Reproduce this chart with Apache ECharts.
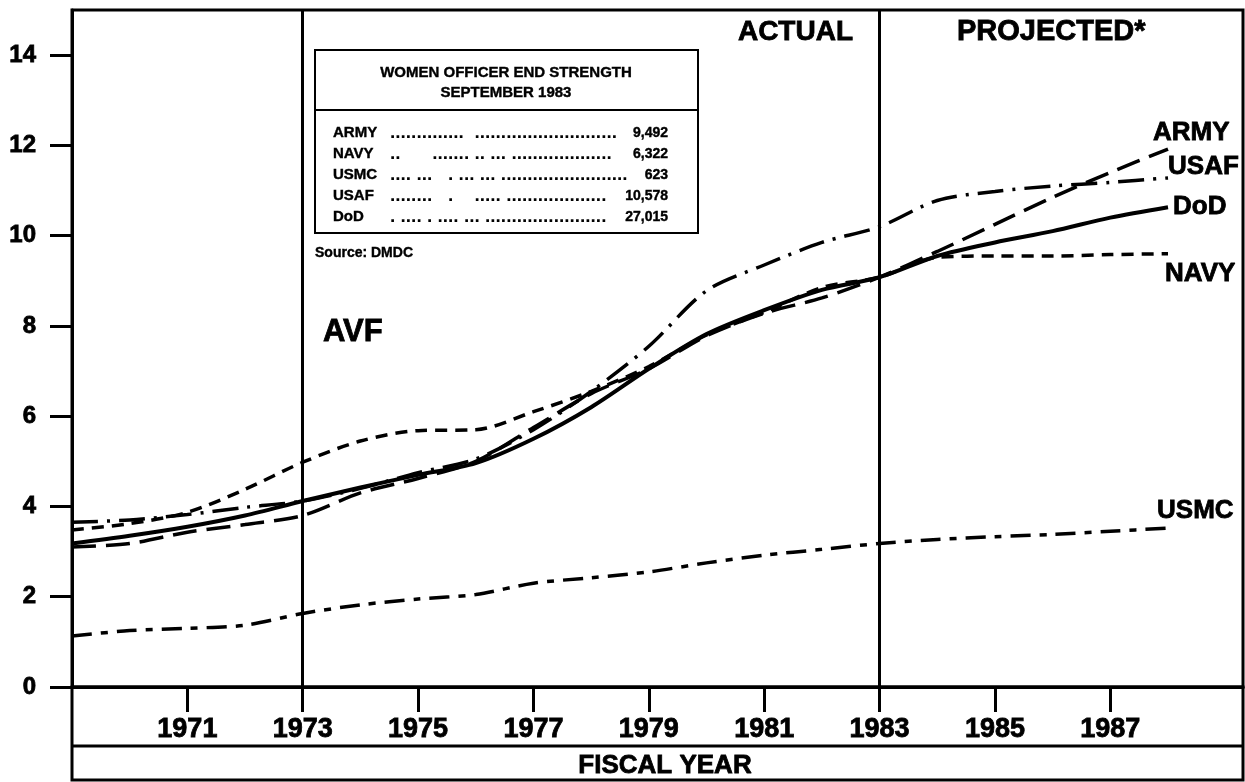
<!DOCTYPE html>
<html>
<head>
<meta charset="utf-8">
<script src="https://cdn.jsdelivr.net/npm/echarts@6/dist/echarts.min.js"></script>
<style>
  html, body { margin: 0; padding: 0; background: #fff; }
  #chart { width: 1245px; height: 782px; }
</style>
</head>
<body>
<div id="chart"></div>
<script>
// fiscal years and women officer strength (thousands)
var years = [1969, 1970, 1971, 1972, 1973, 1974, 1975, 1976, 1977, 1978,
             1979, 1980, 1981, 1982, 1983, 1984, 1985, 1986, 1987, 1988];
var army = [3.10, 3.18, 3.43, 3.60, 3.80, 4.30, 4.62, 5.00, 5.75, 6.50,
            7.05, 7.78, 8.28, 8.62, 9.08, 9.65, 10.25, 10.85, 11.40, 11.92];
var navy = [3.48, 3.62, 3.87, 4.38, 4.98, 5.45, 5.68, 5.70, 6.10, 6.55,
            7.10, 7.80, 8.30, 8.85, 9.08, 9.52, 9.55, 9.55, 9.58, 9.60];
var usmc = [1.13, 1.25, 1.30, 1.37, 1.63, 1.82, 1.95, 2.05, 2.30, 2.42,
            2.55, 2.75, 2.92, 3.05, 3.18, 3.27, 3.33, 3.38, 3.45, 3.52];
var usaf = [3.65, 3.70, 3.82, 3.98, 4.12, 4.40, 4.75, 5.05, 5.70, 6.55,
            7.55, 8.78, 9.35, 9.85, 10.20, 10.78, 10.98, 11.10, 11.18, 11.28];
var dod = [3.18, 3.35, 3.55, 3.80, 4.12, 4.42, 4.70, 4.96, 5.50, 6.20,
           7.05, 7.82, 8.35, 8.80, 9.08, 9.55, 9.85, 10.10, 10.40, 10.63];

var yearTicks = [1971, 1973, 1975, 1977, 1979, 1981, 1983, 1985, 1987];
var valueTicks = [0, 2, 4, 6, 8, 10, 12, 14];
var markYears = [1973, 1983];

// inset table
var tableRows = ["ARMY", "NAVY", "USMC", "USAF", "DoD"];
var tableValues = ["9,492", "6,322", "623", "10,578", "27,015"];
var tableDots = [
  "..............  ...........................",
  "..      ....... .. ... ...................",
  ".... ...   . ... ... ........................",
  "........   .    ..... ...................",
  ". .... . .... ... ......................."
];

var FONT = "'Liberation Sans', Arial, sans-serif";

function pairs(vals) {
  return years.map(function (y, i) { return [y, vals[i]]; });
}

function line(name, vals, dash, width, offset) {
  return {
    name: name,
    type: "line",
    data: pairs(vals),
    showSymbol: false,
    smooth: 0.3,
    silent: true,
    lineStyle: { color: "#000", width: width, type: dash, cap: "butt" },
    endLabel: {
      show: true,
      formatter: name,
      color: "#000",
      fontFamily: FONT,
      fontWeight: "bold",
      fontSize: 26,
      textBorderColor: "#000",
      textBorderWidth: 0.8,
      distance: 0,
      offset: offset
    },
    z: 3
  };
}

function heavy(x, y, text, size, align) {
  return { type: "text", x: x, y: y,
    style: { text: text, font: "bold " + size + "px " + FONT, fill: "#000",
             stroke: "#000", lineWidth: 0.8,
             align: align, verticalAlign: "middle" } };
}

var chart = echarts.init(document.getElementById("chart"));

var graphics = [
  // lower axis box
  { type: "rect", shape: { x: 72, y: 687, width: 1171, height: 93 },
    style: { fill: null, stroke: "#000", lineWidth: 3 }, z: 10 },
  { type: "line", shape: { x1: 72, y1: 746, x2: 1243, y2: 746 },
    style: { stroke: "#000", lineWidth: 3 }, z: 10 },
  heavy(665, 766, "FISCAL YEAR", 26, "center"),
  heavy(853, 32, "ACTUAL", 28, "right"),
  heavy(957, 32, "PROJECTED*", 29, "left"),
  heavy(323, 332, "AVF", 31, "left"),
  // table
  { type: "rect", shape: { x: 315, y: 50, width: 383, height: 183 },
    style: { fill: "#fff", stroke: "#000", lineWidth: 2 }, z: 20 },
  { type: "line", shape: { x1: 315, y1: 110, x2: 698, y2: 110 },
    style: { stroke: "#000", lineWidth: 2 }, z: 21 },
  { type: "text", x: 506, y: 73, z: 21,
    style: { text: "WOMEN OFFICER END STRENGTH", font: "bold 15px " + FONT,
             fill: "#000", stroke: "#000", lineWidth: 0.4,
             align: "center", verticalAlign: "middle" } },
  { type: "text", x: 506, y: 93, z: 21,
    style: { text: "SEPTEMBER 1983", font: "bold 15px " + FONT,
             fill: "#000", stroke: "#000", lineWidth: 0.4,
             align: "center", verticalAlign: "middle" } },
  { type: "text", x: 315, y: 253,
    style: { text: "Source: DMDC", font: "bold 14px " + FONT,
             fill: "#000", stroke: "#000", lineWidth: 0.4,
             align: "left", verticalAlign: "middle" } }
];

tableRows.forEach(function (r, i) {
  var y = 133 + i * 21;
  graphics.push({ type: "text", x: 333, y: y, z: 21,
    style: { text: r, font: "bold 15px " + FONT, fill: "#000",
             stroke: "#000", lineWidth: 0.4,
             align: "left", verticalAlign: "middle" } });
  graphics.push({ type: "text", x: 390, y: y, z: 21,
    style: { text: tableDots[i], font: "bold 19px " + FONT, fill: "#000",
             align: "left", verticalAlign: "middle" } });
  graphics.push({ type: "text", x: 668, y: y, z: 21,
    style: { text: tableValues[i], font: "bold 14px " + FONT, fill: "#000",
             stroke: "#000", lineWidth: 0.4,
             align: "right", verticalAlign: "middle" } });
});

var option = {
  animation: false,
  backgroundColor: "#fff",
  grid: {
    left: 72, right: 2, top: 10, bottom: 95,
    show: true, borderColor: "#000", borderWidth: 3, containLabel: false
  },
  xAxis: {
    type: "value",
    min: 1969,
    max: 1989.3,
    interval: 2,
    axisLine: { show: true, lineStyle: { color: "#000", width: 3 } },
    axisTick: { show: true, length: 25, customValues: yearTicks,
                lineStyle: { color: "#000", width: 3 } },
    axisLabel: {
      customValues: yearTicks,
      margin: 29,
      color: "#000",
      fontFamily: FONT,
      fontWeight: "bold",
      fontSize: 27,
      textBorderColor: "#000",
      textBorderWidth: 0.8,
      formatter: function (v) { return String(v); }
    },
    splitLine: { show: false }
  },
  yAxis: {
    type: "value",
    min: 0,
    max: 15,
    interval: 1,
    axisLine: { show: true, lineStyle: { color: "#000", width: 3 } },
    axisTick: { show: true, length: 22, customValues: valueTicks,
                lineStyle: { color: "#000", width: 3 } },
    axisLabel: {
      customValues: valueTicks,
      margin: 36,
      color: "#000",
      fontFamily: FONT,
      fontWeight: "bold",
      fontSize: 24,
      textBorderColor: "#000",
      textBorderWidth: 0.8
    },
    splitLine: { show: false }
  },
  graphic: graphics,
  series: [
    line("ARMY", army, [24, 10], 3.5, [-15, -16]),
    line("USAF", usaf, [26, 9, 3, 9], 3.5, [0, -11]),
    line("DoD", dod, "solid", 4, [5, 0]),
    line("NAVY", navy, [12, 8], 3.5, [-3, 20]),
    line("USMC", usmc, [20, 9, 7, 9], 3.5, [-11, -17]),
    {
      type: "line",
      data: [],
      silent: true,
      markLine: {
        symbol: "none",
        silent: true,
        label: { show: false },
        lineStyle: { color: "#000", width: 3, type: "solid" },
        data: markYears.map(function (y) { return { xAxis: y }; })
      }
    }
  ]
};

chart.setOption(option);
</script>
</body>
</html>
